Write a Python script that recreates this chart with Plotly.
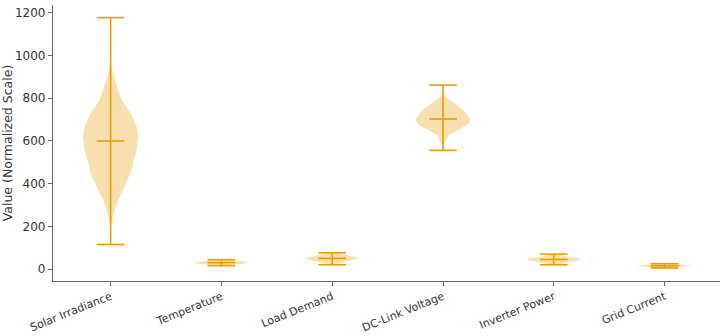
import plotly.graph_objects as go

categories = ["Solar Irradiance", "Temperature", "Load Demand", "DC-Link Voltage", "Inverter Power", "Grid Current"]
mins = [115, 16, 20, 556, 20, 5]
medians = [600, 30, 50, 703, 45, 15]
maxs = [1178, 44, 76, 862, 70, 25]

# violin outline profiles: (value, relative half width)
prof_vals = [
    [198, 261, 323, 386, 448, 495, 558, 620, 667, 730, 792, 870, 917, 980],
    [12, 20, 26, 30, 34, 40, 48],
    [20, 35, 45, 50, 55, 65, 80],
    [565, 581, 605, 628, 652, 675, 698, 722, 745, 777, 800, 823],
    [18, 32, 40, 45, 50, 58, 72],
    [2, 8, 12, 15, 18, 22, 28],
]
prof_widths = [
    [0.005, 0.027, 0.068, 0.125, 0.18, 0.2, 0.235, 0.248, 0.235, 0.18, 0.10, 0.048, 0.02, 0.0],
    [0.0, 0.12, 0.22, 0.245, 0.22, 0.12, 0.0],
    [0.0, 0.12, 0.22, 0.245, 0.22, 0.12, 0.0],
    [0.0, 0.01, 0.03, 0.053, 0.135, 0.22, 0.248, 0.22, 0.18, 0.105, 0.037, 0.0],
    [0.0, 0.12, 0.22, 0.245, 0.22, 0.12, 0.0],
    [0.0, 0.12, 0.22, 0.245, 0.22, 0.12, 0.0],
]

ORANGE = "#E69F00"
FILL = "rgba(230,159,0,0.32)"
CAP = 0.125

fig = go.Figure()
for i, cat in enumerate(categories):
    pos = i + 1
    v = prof_vals[i]
    w = prof_widths[i]
    xs = [pos + a for a in w] + [pos - a for a in reversed(w)]
    ys = list(v) + list(reversed(v))
    fig.add_trace(go.Scatter(x=xs, y=ys, fill="toself", fillcolor=FILL,
                             line=dict(width=0), mode="lines", hoverinfo="skip",
                             showlegend=False))

lx, ly = [], []
for i in range(len(categories)):
    pos = i + 1
    lx += [pos, pos, None]
    ly += [mins[i], maxs[i], None]
    for val in (mins[i], medians[i], maxs[i]):
        lx += [pos - CAP, pos + CAP, None]
        ly += [val, val, None]
fig.add_trace(go.Scatter(x=lx, y=ly, mode="lines", line=dict(color=ORANGE, width=1.6),
                         showlegend=False, hoverinfo="skip"))

fig.update_layout(
    width=722, height=336,
    margin=dict(l=53, r=2, t=5, b=55),
    plot_bgcolor="white", paper_bgcolor="white",
    font=dict(family="DejaVu Sans", size=12, color="#333333"),
)
fig.update_xaxes(range=[0.48, 6.5], tickvals=list(range(1, len(categories) + 1)),
                 ticktext=categories, tickangle=-22, showgrid=False, zeroline=False,
                 showline=True, linecolor="#666666", linewidth=1.2,
                 ticks="outside", ticklen=4, tickcolor="#666666", automargin=False,
                 tickfont=dict(size=11, color="#333333"))
fig.update_yaxes(range=[-56, 1237], tickvals=[0, 200, 400, 600, 800, 1000, 1200],
                 showgrid=False, zeroline=False, showline=True, linecolor="#666666",
                 linewidth=1.2, ticks="outside", ticklen=4, tickcolor="#666666",
                 tickfont=dict(size=12, color="#333333"), automargin=False,
                 title=dict(text="Value (Normalized Scale)", font=dict(size=12.5, color="#333333"),
                            standoff=4))

fig.write_html("out.html")
